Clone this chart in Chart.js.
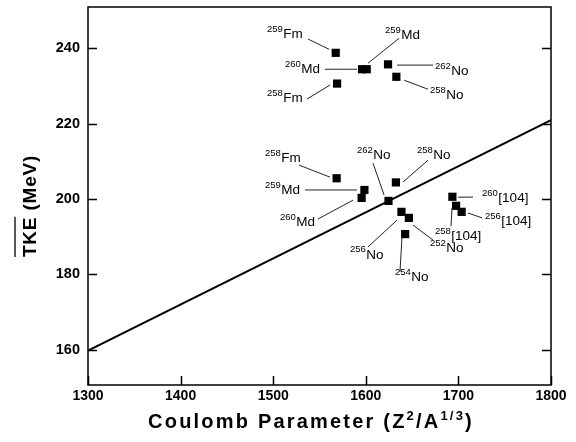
<!DOCTYPE html>
<html>
<head>
<meta charset="utf-8">
<script src="https://cdn.jsdelivr.net/npm/chart.js@4.4.0/dist/chart.umd.min.js"></script>
<style>
  html, body { margin: 0; padding: 0; background: #fff; }
</style>
</head>
<body>
<canvas id="tkeChart" width="576" height="442"></canvas>
<script>
// axis ticks
const xTicks = [1300, 1400, 1500, 1600, 1700, 1800];
const yTicks = [160, 180, 200, 220, 240];

// measured points
const nuclideMass = ['259', '260', '258', '259', '262', '258', '258', '259', '260', '262', '258', '256', '254', '252', '260', '256', '258'];
const nuclideName = ['Fm', 'Md', 'Fm', 'Md', 'No', 'No', 'Fm', 'Md', 'Md', 'No', 'No', 'No', 'No', 'No', '[104]', '[104]', '[104]'];
const coulombParam = [1567.5, 1596, 1569, 1601, 1624, 1633, 1568.5, 1598.5, 1595.5, 1624.5, 1632.5, 1638.5, 1642.5, 1646.5, 1693.5, 1703.5, 1697.5];
const tkeValues = [238.75, 234.4, 230.6, 234.4, 235.7, 232.4, 205.5, 202.4, 200.3, 199.5, 204.4, 196.6, 190.7, 195.0, 200.6, 196.6, 198.2];

// systematics line
const fitX = [1300, 1800];
const fitY = [159.8, 220.9];

// label placement (data units): text start and leader line ends
const labelX = [1493.3, 1512.7, 1493.3, 1620.7, 1674.7, 1669.3, 1491.1, 1491.1, 1507.3, 1590.5, 1655.3, 1582.9, 1631.5, 1669.3, 1725.5, 1728.7, 1674.7];
const labelY = [243.7, 234.4, 226.8, 243.4, 233.9, 227.5, 210.9, 202.4, 193.9, 211.7, 211.7, 185.2, 179.3, 187.0, 200.3, 194.2, 190.2];
const leadX1 = [1537.6, 1555.9, 1536.5, 1602.4, 1633.7, 1641.3, 1527.9, 1534.3, 1548.4, 1607.8, 1640.2, 1602.4, 1636.9, 1672.6, 1699.6, 1710.4, 1693.1];
const leadY1 = [242.4, 234.4, 226.5, 236.0, 235.5, 231.5, 209.0, 202.4, 194.7, 209.5, 204.5, 187.3, 180.7, 189.1, 200.5, 196.3, 197.6];
const leadX2 = [1560.3, 1590.5, 1561.3, 1635.9, 1672.6, 1667.2, 1561.3, 1590.5, 1586.2, 1619.7, 1667.2, 1633.7, 1639.1, 1651.0, 1715.8, 1725.5, 1692.0];
const leadY2 = [239.7, 234.4, 230.2, 242.6, 235.5, 229.1, 205.8, 202.4, 199.7, 201.1, 210.3, 194.4, 189.9, 193.1, 200.5, 195.0, 192.8];

const FONT = '"Liberation Sans", Arial, Helvetica, sans-serif';
Chart.defaults.font.family = FONT;
Chart.defaults.color = '#000';

// frame, inward ticks, nuclide labels and axis titles
const annotate = {
    id: 'annotate',
    afterDraw(chart) {
        const { ctx, chartArea: a, scales: { x, y } } = chart;
        ctx.save();
        ctx.strokeStyle = '#000';
        ctx.lineWidth = 1.5;
        ctx.strokeRect(a.left, a.top, a.right - a.left, a.bottom - a.top);

        ctx.beginPath();
        yTicks.forEach(v => {
            const py = Math.round(y.getPixelForValue(v)) + 0.5;
            ctx.moveTo(a.left, py); ctx.lineTo(a.left + 9, py);
            ctx.moveTo(a.right, py); ctx.lineTo(a.right - 9, py);
        });
        xTicks.forEach(v => {
            const px = Math.round(x.getPixelForValue(v)) + 0.5;
            ctx.moveTo(px, a.bottom); ctx.lineTo(px, a.bottom - 9);
        });
        ctx.stroke();

        // leader lines
        ctx.lineWidth = 1;
        ctx.strokeStyle = '#222';
        ctx.beginPath();
        leadX1.forEach((v, i) => {
            ctx.moveTo(x.getPixelForValue(v), y.getPixelForValue(leadY1[i]));
            ctx.lineTo(x.getPixelForValue(leadX2[i]), y.getPixelForValue(leadY2[i]));
        });
        ctx.stroke();

        // labels with superscript mass number
        ctx.fillStyle = '#000';
        ctx.textBaseline = 'middle';
        ctx.textAlign = 'left';
        labelX.forEach((v, i) => {
            const px = x.getPixelForValue(v);
            const py = y.getPixelForValue(labelY[i]);
            ctx.font = '9.5px ' + FONT;
            ctx.fillText(nuclideMass[i], px, py - 5);
            const w = ctx.measureText(nuclideMass[i]).width;
            ctx.font = '13.5px ' + FONT;
            ctx.fillText(nuclideName[i], px + w + 0.5, py);
        });

        // x axis title
        const parts = [
            ['Coulomb Parameter (Z', 0], ['2', 1], ['/A', 0], ['1/3', 1], [')', 0]
        ];
        const bigF = 'bold 20px ' + FONT, supF = 'bold 13px ' + FONT;
        ctx.letterSpacing = '2.2px';
        let total = 0;
        parts.forEach(p => { ctx.font = p[1] ? supF : bigF; total += ctx.measureText(p[0]).width; });
        let cx = 311 - total / 2;
        ctx.textBaseline = 'alphabetic';
        parts.forEach(p => {
            ctx.font = p[1] ? supF : bigF;
            ctx.fillText(p[0], cx, p[1] ? 420 : 428);
            cx += ctx.measureText(p[0]).width;
        });

        // y axis title with overline on TKE
        ctx.letterSpacing = '0.8px';
        ctx.translate(36, 206);
        ctx.rotate(-Math.PI / 2);
        ctx.font = 'bold 19px ' + FONT;
        const full = 'TKE (MeV)';
        const fw = ctx.measureText(full).width;
        const tw = ctx.measureText('TKE').width;
        ctx.fillText(full, -fw / 2, 0);
        ctx.lineWidth = 1.5;
        ctx.beginPath();
        ctx.moveTo(-fw / 2, -21);
        ctx.lineTo(-fw / 2 + tw, -21);
        ctx.stroke();
        ctx.restore();
    }
};

function noPadding(scale) {
    scale.paddingTop = 0;
    scale.paddingBottom = 0;
    scale.paddingLeft = 0;
    scale.paddingRight = 0;
}

new Chart(document.getElementById('tkeChart').getContext('2d'), {
    type: 'scatter',
    data: {
        datasets: [
            {
                label: 'TKE',
                data: coulombParam.map((v, i) => ({ x: v, y: tkeValues[i] })),
                pointStyle: 'rect',
                pointRadius: 5.8,
                backgroundColor: '#000',
                borderWidth: 0
            },
            {
                type: 'line',
                label: 'Systematics',
                data: fitX.map((v, i) => ({ x: v, y: fitY[i] })),
                borderColor: '#000',
                borderWidth: 2,
                pointRadius: 0,
                fill: false
            }
        ]
    },
    options: {
        responsive: false,
        animation: false,
        layout: { padding: { top: 7, right: 25, left: 0, bottom: 0 } },
        plugins: {
            legend: { display: false },
            tooltip: { enabled: false }
        },
        scales: {
            x: {
                type: 'linear',
                min: 1300,
                max: 1800,
                afterBuildTicks: scale => { scale.ticks = xTicks.map(v => ({ value: v })); },
                afterFit: scale => { scale.height = 57; noPadding(scale); },
                grid: { display: false, drawTicks: false },
                border: { display: false },
                ticks: {
                    font: { size: 14, weight: 'bold' },
                    color: '#000',
                    padding: 3,
                    maxRotation: 0,
                    callback: v => String(v)
                }
            },
            y: {
                min: 150.7,
                max: 250.9,
                afterBuildTicks: scale => { scale.ticks = yTicks.map(v => ({ value: v })); },
                afterFit: scale => { scale.width = 88; noPadding(scale); },
                grid: { display: false, drawTicks: false },
                border: { display: false },
                ticks: {
                    font: { size: 14.5, weight: 'bold' },
                    color: '#000',
                    padding: 8,
                    callback: v => String(v)
                }
            }
        }
    },
    plugins: [annotate]
});
</script>
</body>
</html>
